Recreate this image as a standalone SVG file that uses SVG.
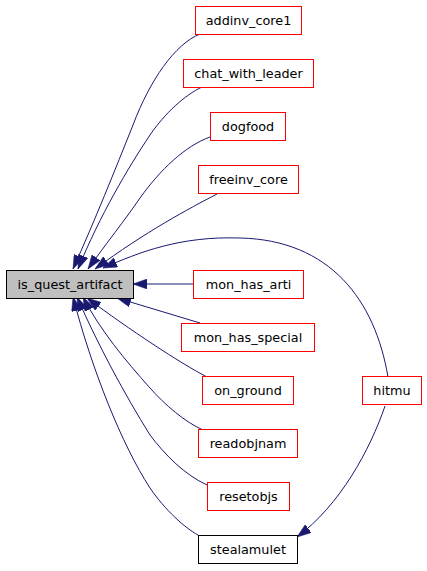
<svg xmlns="http://www.w3.org/2000/svg" width="427" height="571" viewBox="0 0 427 571">
<style>
.n rect{fill:#ffffff;stroke:#ff0000;stroke-width:1}
.n.root rect{fill:#bfbfbf;stroke:#000000}
.n.plain rect{stroke:#000000}
.n text{font-family:"DejaVu Sans",sans-serif;font-size:12.8px;fill:#000000;text-anchor:middle}
.e path{fill:none;stroke:#191970;stroke-width:1;marker-end:url(#arr)}
</style>
<defs>
<marker id="arr" markerUnits="userSpaceOnUse" viewBox="0 0 14 10" markerWidth="14" markerHeight="10" refX="14" refY="5" orient="auto">
<path d="M0,0 L14,5 L0,10 z" fill="#191970" stroke="#191970" stroke-width="0.5"/>
</marker>
</defs>
<rect width="427" height="571" fill="#ffffff"/>
<g id="edges" class="e">
<path d="M200,34 C175,44 150,80 133,125 C115,170 95,220 73,269"/>
<path d="M202,87 C185,95 165,113 150,135 C128,168 100,215 78,269"/>
<path d="M210,137 C185,146 160,170 140,198 C125,220 105,245 88,269"/>
<path d="M217,194 C190,208 145,232 95,269"/>
<path d="M388,377 C375,300 330,240 240,238 C180,236 140,252 103,268"/>
<path d="M193,284 L133,284"/>
<path d="M200,323 L117,298"/>
<path d="M207,377 C180,363 130,330 87,298"/>
<path d="M203,430 C185,422 165,405 150,388 C125,360 100,330 83,297"/>
<path d="M207,485 C185,475 165,455 150,435 C125,395 98,345 77,297"/>
<path d="M198,535 C185,528 165,510 150,488 C122,445 92,370 73,297"/>
<path d="M385,406 C370,450 340,505 297,537"/>
</g>
<g id="is_quest_artifact" class="n root"><rect x="6.5" y="270.5" width="127" height="28"/><text x="70" y="288.5">is_quest_artifact</text></g>
<g id="addinv_core1" class="n"><rect x="195.5" y="6.5" width="106" height="28"/><text x="248.5" y="24.5">addinv_core1</text></g>
<g id="chat_with_leader" class="n"><rect x="183.5" y="59.5" width="130" height="28"/><text x="248.5" y="77.5">chat_with_leader</text></g>
<g id="dogfood" class="n"><rect x="210.5" y="112.5" width="75" height="28"/><text x="248" y="130.5">dogfood</text></g>
<g id="freeinv_core" class="n"><rect x="198.5" y="165.5" width="100" height="28"/><text x="248.5" y="183.5">freeinv_core</text></g>
<g id="mon_has_arti" class="n"><rect x="193.5" y="270.5" width="110" height="28"/><text x="248.5" y="288.5">mon_has_arti</text></g>
<g id="mon_has_special" class="n"><rect x="181.5" y="323.5" width="133" height="28"/><text x="248" y="341.5">mon_has_special</text></g>
<g id="on_ground" class="n"><rect x="202.5" y="376.5" width="91" height="28"/><text x="248" y="394.5">on_ground</text></g>
<g id="hitmu" class="n"><rect x="362.5" y="376.5" width="59" height="28"/><text x="392" y="394.5">hitmu</text></g>
<g id="readobjnam" class="n"><rect x="198.5" y="429.5" width="99" height="28"/><text x="248" y="447.5">readobjnam</text></g>
<g id="resetobjs" class="n"><rect x="207.5" y="482.5" width="82" height="28"/><text x="248.5" y="500.5">resetobjs</text></g>
<g id="stealamulet" class="n plain"><rect x="198.5" y="535.5" width="99" height="28"/><text x="248" y="553.5">stealamulet</text></g>
</svg>
